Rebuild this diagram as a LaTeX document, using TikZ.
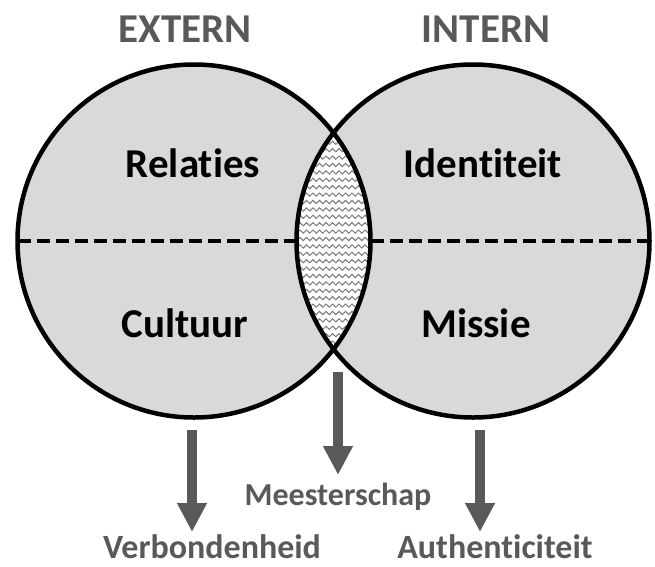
\documentclass[tikz,border=0pt]{standalone}
\usepackage{fontspec}
\setmainfont{Carlito}[Ligatures={NoCommon,NoRare}]
\usetikzlibrary{arrows.meta,decorations.pathmorphing}
\definecolor{fillgray}{HTML}{D9D9D9}
\definecolor{txtgray}{HTML}{595959}
\definecolor{wavegray}{HTML}{7A7A7A}
\begin{document}
\begin{tikzpicture}[x=1pt,y=-1pt,
  ring/.style={circle, minimum size=353pt, inner sep=0pt, outer sep=0pt},
  outline/.style={line width=4.5pt},
  head/.style={font=\fontsize{41}{44}\selectfont\bfseries, text=txtgray, anchor=base, inner sep=0pt},
  part/.style={font=\fontsize{41}{44}\selectfont\bfseries, text=black, anchor=base, inner sep=0pt},
  result/.style={font=\fontsize{34}{38}\selectfont\bfseries, text=txtgray, anchor=base, inner sep=0pt},
  flow/.style={draw=txtgray, line width=10pt, -{Triangle[width=28pt,length=29pt]}},
  sep/.style={line width=4pt, dash pattern=on 13pt off 6pt},
  wave/.style={draw=wavegray, line width=1pt, decorate, decoration={snake, amplitude=1.6pt, segment length=6.5pt}}
]
\useasboundingbox (0,0) rectangle (655,566);
\node[ring, fill=fillgray] (L) at (194,241) {};
\node[ring, fill=fillgray] (R) at (473,241) {};
\begin{scope}
  \clip (L.center) circle[radius=176.5pt];
  \fill[white] (R.center) circle[radius=176.5pt];
  \clip (R.center) circle[radius=176.5pt];
  \foreach \y in {128,135.4,...,358} \draw[wave] (285,\y) -- (385,\y);
\end{scope}
\draw[sep] (L.west) -- (R.west);
\draw[sep] (L.east) -- (R.east);
\draw[outline] (L.center) circle[radius=176.5pt];
\draw[outline] (R.center) circle[radius=176.5pt];

\node[head] (ext) at (185,42) {EXTERN};
\node[head] (int) at (486,42) {INTERN};
\node[part] (rel) at (193,177) {Relaties};
\node[part] (idn) at (483,177) {Identiteit};
\node[part] (cul) at (185,337) {Cultuur};
\node[part] (mis) at (476,337) {Missie};
\node[result, font=\fontsize{32}{36}\selectfont\bfseries] (mst) at (338,505) {Meesterschap};
\node[result] (ver) at (212,558) {Verbondenheid};
\node[result] (aut) at (495,558) {Authenticiteit};

\coordinate (a1) at (192,430); \coordinate (b1) at (192,532);
\coordinate (a2) at (338,372); \coordinate (b2) at (338,475);
\coordinate (a3) at (480,430); \coordinate (b3) at (480,532);
\draw[flow] (a1) -- (b1);
\draw[flow] (a2) -- (b2);
\draw[flow] (a3) -- (b3);
\end{tikzpicture}
\end{document}
